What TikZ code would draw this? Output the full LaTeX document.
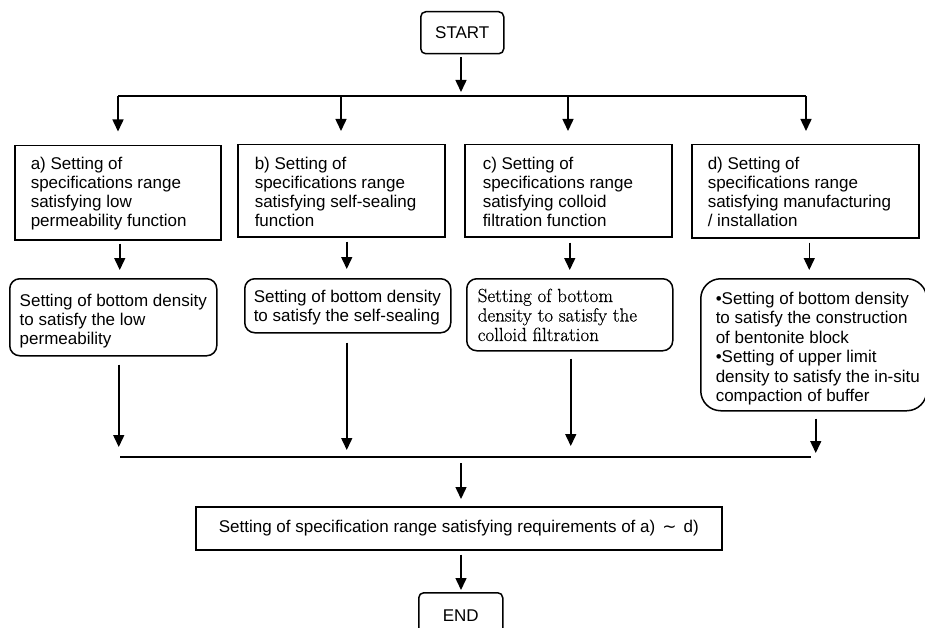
\documentclass[tikz,border=0pt]{standalone}
\usepackage{fontspec}
\newfontfamily\arial{Liberation Sans}
\newfontfamily\dejavu{DejaVu Sans}
\newfontfamily\cent[FakeBold=0.5]{Latin Modern Roman}
\usetikzlibrary{arrows.meta}
\newcommand{\lns}[1]{\begin{tabular}[t]{@{}l@{}}#1\end{tabular}}
\begin{document}
\begin{tikzpicture}[x=1pt,y=-1pt, line width=1.5pt,
  sq/.style={draw, rectangle, anchor=north west, inner sep=0pt},
  rnd/.style={sq, rounded corners=10pt},
  txt/.style={anchor=base west, inner sep=0pt, font=\arial\fontsize{17}{19}\selectfont},
  ctxt/.style={font=\arial\fontsize{17}{19}\selectfont},
  arr/.style={-{Triangle[length=12pt,width=11pt]}}]
\useasboundingbox (0,0) rectangle (925,628);

% start
\node[sq, rounded corners=5pt, minimum width=83pt, minimum height=42pt, ctxt] (start) at (420,11) {START};

% upper boxes
\node[sq, minimum width=206pt, minimum height=94pt] (a) at (14,145) {};
\node[sq, minimum width=207pt, minimum height=92pt] (b) at (237,144) {};
\node[sq, minimum width=207pt, minimum height=92pt] (c) at (464,144) {};
\node[sq, minimum width=227pt, minimum height=93pt] (d) at (691,144) {};
\node[txt] (at) at (30,170) {\lns{a) Setting of\\specifications range\\satisfying low\\permeability function}};
\node[txt] (bt) at (254,170) {\lns{b) Setting of\\specifications range\\satisfying self-sealing\\function}};
\node[txt] (ct) at (482,170) {\lns{c) Setting of\\specifications range\\satisfying colloid\\filtration function}};
\node[txt] (dt) at (707,170) {\lns{d) Setting of\\specifications range\\satisfying manufacturing\\/ installation}};

% lower boxes
\node[rnd, minimum width=207pt, minimum height=77pt] (a2) at (9,278) {};
\node[rnd, minimum width=206pt, minimum height=54pt] (b2) at (244,278) {};
\node[rnd, minimum width=206pt, minimum height=72pt] (c2) at (466,278) {};
\node[sq, rounded corners=20pt, minimum width=226pt, minimum height=132pt] (d2) at (700,278) {};
\node[txt] (a2t) at (19,306) {\lns{Setting of bottom density\\to satisfy the low\\permeability}};
\node[txt] (b2t) at (253,302.5) {\lns{Setting of bottom density\\to satisfy the self-sealing}};
\node[txt, font=\cent\fontsize{19}{19.5}\selectfont] (c2t) at (477,302) {\lns{Setting of bottom\\density to satisfy the\\colloid filtration}};
\node[txt, font=\arial\fontsize{17}{19.5}\selectfont] (d2t) at (715,304) {\lns{•Setting of bottom density\\to satisfy the construction\\of bentonite block\\•Setting of upper limit\\density to satisfy the in-situ\\compaction of buffer}};

% final and end
\node[sq, minimum width=526pt, minimum height=43pt, ctxt] (fin) at (195,506) {Setting of specification range satisfying requirements of a)\hspace{7pt}{\dejavu ∼}\hspace{7pt}d)};
\node[sq, rounded corners=5pt, minimum width=84pt, minimum height=46pt, ctxt] (end) at (418,592) {END};

% top bus
\coordinate (s1) at (461,92);
\coordinate (ba) at (118,96);
\coordinate (bb) at (341,96);
\coordinate (bc) at (568,96);
\coordinate (bd) at (806,96);
\draw[arr] ([yshift=-3pt]start.south -| s1) -- (s1);
\draw (ba) -- (bd);
\draw[arr, shorten >=13.5pt] (ba) -- (ba |- a.north);
\draw[arr, shorten >=13pt] (bb) -- (bb |- b.north);
\draw[arr, shorten >=13pt] (bc) -- (bc |- c.north);
\draw[arr, shorten >=13pt] (bd) -- (bd |- d.north);

% middle arrows
\draw[arr, shorten <=3pt, shorten >=8pt] ([xshift=2pt]a.south) -- ([xshift=2pt]a.south |- a2.north);
\draw[arr, shorten <=4pt, shorten >=9pt] ([xshift=5.5pt]b.south) -- ([xshift=5.5pt]b.south |- b2.north);
\draw[arr, shorten <=5pt, shorten >=8pt] ([xshift=1.5pt]c.south) -- ([xshift=1.5pt]c.south |- c2.north);
\draw[arr, shorten <=4pt, shorten >=8pt] ([xshift=4pt]d.south) -- ([xshift=4pt]d.south |- d2.north);

% merge line
\coordinate (mL) at (120,457);
\coordinate (mR) at (811,457);
\coordinate (m) at (461,457);
\draw[line width=2pt] (mL) -- (mR);
\draw[arr, shorten <=8pt, shorten >=10pt] ([xshift=5.5pt]a2.south) -- ([xshift=5.5pt]a2.south |- mL);
\draw[arr, shorten <=9pt, shorten >=7pt] ([xshift=-1pt]b2.south) -- ([xshift=-1pt]b2.south |- mL);
\draw[arr, shorten <=7pt, shorten >=11pt] ([xshift=1pt]c2.south) -- ([xshift=1pt]c2.south |- mL);
\draw[arr, shorten <=7pt, shorten >=4pt] ([xshift=2pt]d2.south) -- ([xshift=2pt]d2.south |- mL);

% final arrows
\draw[arr, shorten <=6pt, shorten >=7pt] (m) -- (m |- fin.north);
\draw[arr, shorten <=4pt, shorten >=2pt] (m |- fin.south) -- (m |- end.north);
\end{tikzpicture}
\end{document}
